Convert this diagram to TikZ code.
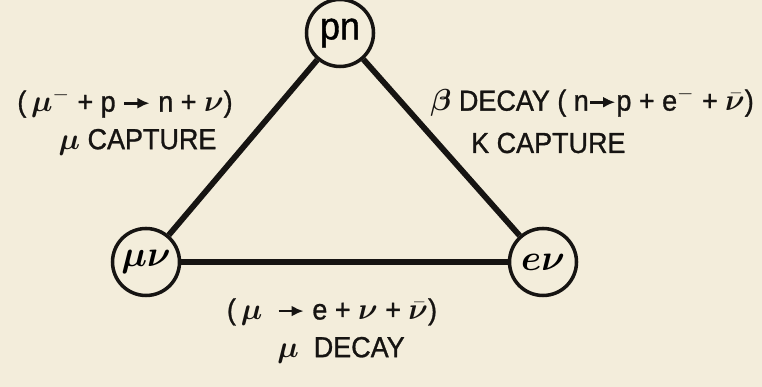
\documentclass[tikz,border=0pt]{standalone}
\usepackage{fontspec}
\usepackage{bm}
\usetikzlibrary{arrows.meta}
\setmainfont[FakeStretch=0.93, FakeBold=1]{Liberation Sans}
\definecolor{paper}{RGB}{243,237,219}
\definecolor{ink}{RGB}{22,20,18}
\newcommand{\reacarrow}{\tikz[baseline=-0.55ex]\draw[-{Latex[length=2.4mm,width=2.2mm]}, line width=1.5pt, ink] (0,0) -- (0.5,0);}
\begin{document}
\begin{tikzpicture}[>=latex, font=\fontsize{16.5}{18}\selectfont,
    state/.style={circle, draw=ink, line width=2pt, minimum size=1.34cm, inner sep=0pt, fill=paper, font=\fontsize{22}{23}\selectfont},
    link/.style={line width=3.3pt, draw=ink}]
    % Nền giấy
    \fill[paper] (0, 0) rectangle (15.24, 7.74);
    \useasboundingbox (0, 0) rectangle (15.24, 7.74);

    % 1. Ba trạng thái
    \node[state] (pn) at (6.8, 7.08) {pn};
    \node[state] (munu) at (2.92, 2.5) {$\bm{\mu\nu}$};
    \node[state] (enu) at (10.86, 2.5) {$\bm{e\nu}$};

    % 2. Các cạnh tam giác
    \draw[link] (pn) -- (munu);
    \draw[link] (pn) -- (enu);
    \draw[link] (munu) -- (enu);

    % 3. Nhãn các quá trình
    \node[ink] (capeq) at (2.5, 5.68) {(\,$\bm{\mu}^-$ + p \reacarrow\ n + $\bm{\nu}$)};
    \node[ink] (caplab) at (2.75, 4.9) {$\bm{\mu}$ CAPTURE};
    \node[ink, anchor=east] (betaeq) at (15.2, 5.7) {$\bm{\beta}$ DECAY ( n\reacarrow p + e$^-$ + $\bar{\bm{\nu}}$)};
    \node[ink, anchor=west] (klab) at (9.3, 4.88) {K CAPTURE};
    \node[ink] (decayeq) at (6.64, 1.5) {(\,$\bm{\mu}$ \ \reacarrow\ e + $\bm{\nu}$ + $\bar{\bm{\nu}}$)};
    \node[ink] (decaylab) at (6.82, 0.74) {$\bm{\mu}$ \ DECAY};

\end{tikzpicture}
\end{document}
